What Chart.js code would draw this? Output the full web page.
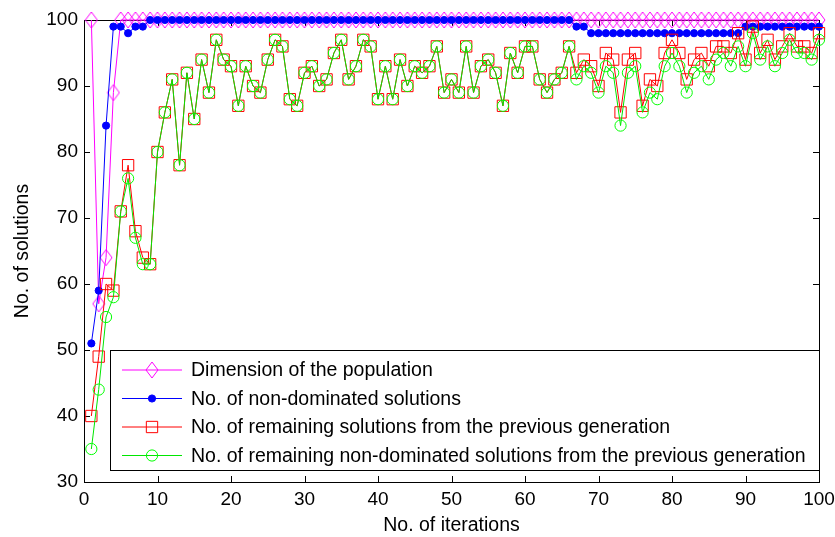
<!DOCTYPE html>
<html>
<head>
<meta charset="utf-8">
<script src="https://cdn.jsdelivr.net/npm/chart.js@4.4.0/dist/chart.umd.min.js"></script>
<style>
  html, body { margin: 0; padding: 0; background: #fff; }
  #wrap { width: 835px; height: 537px; }
</style>
</head>
<body>
<div id="wrap"><canvas id="chart" width="835" height="537"></canvas></div>
<script>
// values, iteration 1..100
const populationSize = [
  100, 57, 64, 89, 100, 100, 100, 100, 100, 100,
  100, 100, 100, 100, 100, 100, 100, 100, 100, 100,
  100, 100, 100, 100, 100, 100, 100, 100, 100, 100,
  100, 100, 100, 100, 100, 100, 100, 100, 100, 100,
  100, 100, 100, 100, 100, 100, 100, 100, 100, 100,
  100, 100, 100, 100, 100, 100, 100, 100, 100, 100,
  100, 100, 100, 100, 100, 100, 100, 100, 100, 100,
  100, 100, 100, 100, 100, 100, 100, 100, 100, 100,
  100, 100, 100, 100, 100, 100, 100, 100, 100, 100,
  100, 100, 100, 100, 100, 100, 100, 100, 100, 100
];
const nonDominated = [
  51, 59, 84, 99, 99, 98, 99, 99, 100, 100,
  100, 100, 100, 100, 100, 100, 100, 100, 100, 100,
  100, 100, 100, 100, 100, 100, 100, 100, 100, 100,
  100, 100, 100, 100, 100, 100, 100, 100, 100, 100,
  100, 100, 100, 100, 100, 100, 100, 100, 100, 100,
  100, 100, 100, 100, 100, 100, 100, 100, 100, 100,
  100, 100, 100, 100, 100, 100, 99, 99, 98, 98,
  98, 98, 98, 98, 98, 98, 98, 98, 98, 98,
  98, 98, 98, 98, 98, 98, 98, 98, 98, 99,
  99, 99, 99, 99, 99, 99, 99, 99, 99, 99
];
const remaining = [
  40, 49, 60, 59, 71, 78, 68, 64, 63, 80,
  86, 91, 78, 92, 85, 94, 89, 97, 94, 93,
  87, 93, 90, 89, 94, 97, 96, 88, 87, 92,
  93, 90, 91, 95, 97, 91, 93, 97, 96, 88,
  93, 88, 94, 90, 93, 92, 93, 96, 89, 91,
  89, 96, 89, 93, 94, 92, 87, 95, 92, 96,
  96, 91, 89, 91, 92, 96, 92, 94, 93, 90,
  95, 94, 86, 94, 95, 87, 91, 90, 95, 97,
  95, 91, 94, 95, 93, 96, 96, 95, 98, 94,
  99, 95, 97, 94, 96, 98, 96, 96, 95, 98
];
const remainingNonDominated = [
  35, 44, 55, 58, 71, 76, 67, 63, 63, 80,
  86, 91, 78, 92, 85, 94, 89, 97, 94, 93,
  87, 93, 90, 89, 94, 97, 96, 88, 87, 92,
  93, 90, 91, 95, 97, 91, 93, 97, 96, 88,
  93, 88, 94, 90, 93, 92, 93, 96, 89, 91,
  89, 96, 89, 93, 94, 92, 87, 95, 92, 96,
  96, 91, 89, 91, 92, 96, 91, 93, 92, 89,
  93, 92, 84, 92, 93, 86, 89, 88, 93, 95,
  93, 89, 92, 93, 91, 94, 95, 93, 96, 93,
  98, 94, 96, 93, 95, 97, 95, 95, 94, 97
];
const seriesLabels = [
  'Dimension of the population',
  'No. of non-dominated solutions',
  'No. of remaining solutions from the previous generation',
  'No. of remaining non-dominated solutions from the previous generation'
];
const xTicks = [0, 10, 20, 30, 40, 50, 60, 70, 80, 90, 100];
const yTicks = [30, 40, 50, 60, 70, 80, 90, 100];

const iterations = populationSize.map((v, i) => i + 1);
const toPoints = arr => arr.map((v, i) => ({ x: iterations[i], y: v }));

const FONT = '"Liberation Sans", Arial, Helvetica, sans-serif';

// matlab-ish hollow diamond (a bit taller than wide)
function diamond(w, h, color) {
  const c = document.createElement('canvas');
  c.width = w + 2;
  c.height = h + 2;
  const g = c.getContext('2d');
  g.strokeStyle = color;
  g.lineWidth = 1;
  g.beginPath();
  g.moveTo(c.width / 2, 1);
  g.lineTo(c.width - 1, c.height / 2);
  g.lineTo(c.width / 2, c.height - 1);
  g.lineTo(1, c.height / 2);
  g.closePath();
  g.stroke();
  return c;
}

function marker(ctx, ds, x, y) {
  const style = ds.pointStyle;
  if (style instanceof HTMLCanvasElement) {
    ctx.drawImage(style, x - style.width / 2, y - style.height / 2);
    return;
  }
  const r = ds.pointRadius;
  ctx.beginPath();
  if (style === 'rect') {
    const s = Math.SQRT1_2 * r;
    ctx.rect(x - s, y - s, 2 * s, 2 * s);
  } else {
    ctx.arc(x, y, r, 0, Math.PI * 2);
  }
  ctx.fillStyle = ds.pointBackgroundColor;
  ctx.fill();
  ctx.strokeStyle = ds.pointBorderColor;
  ctx.lineWidth = 1;
  ctx.stroke();
}

// box round the axes with inward ticks on all four sides
const axesBox = {
  id: 'axesBox',
  beforeDatasetsDraw(chart) {
    const { ctx, chartArea: a, scales } = chart;
    const len = 6;
    ctx.save();
    ctx.strokeStyle = '#000';
    ctx.lineWidth = 1;
    ctx.beginPath();
    scales.x.ticks.forEach(t => {
      const px = Math.round(scales.x.getPixelForValue(t.value)) + 0.5;
      ctx.moveTo(px, a.bottom); ctx.lineTo(px, a.bottom - len);
      ctx.moveTo(px, a.top); ctx.lineTo(px, a.top + len);
    });
    scales.y.ticks.forEach(t => {
      const py = Math.round(scales.y.getPixelForValue(t.value)) + 0.5;
      ctx.moveTo(a.left, py); ctx.lineTo(a.left + len, py);
      ctx.moveTo(a.right, py); ctx.lineTo(a.right - len, py);
    });
    ctx.stroke();
    ctx.strokeRect(Math.round(a.left) + 0.5, Math.round(a.top) + 0.5,
      Math.round(a.right - a.left), Math.round(a.bottom - a.top));
    ctx.restore();
  }
};

// legend drawn inside the axes, lower part, like the matlab one
const boxLegend = {
  id: 'boxLegend',
  afterDatasetsDraw(chart) {
    const { ctx } = chart;
    const left = 110, top = 350, right = 819, bottom = 470;
    ctx.save();
    ctx.fillStyle = '#fff';
    ctx.fillRect(left, top, right - left, bottom - top);
    ctx.strokeStyle = '#000';
    ctx.lineWidth = 1;
    ctx.strokeRect(left + 0.5, top + 0.5, right - left, bottom - top);
    ctx.font = '19.5px ' + FONT;
    ctx.textBaseline = 'middle';
    seriesLabels.forEach((label, i) => {
      const ds = chart.data.datasets[i];
      const y = top + 20 + i * 28.5;
      ctx.strokeStyle = ds.borderColor;
      ctx.beginPath();
      ctx.moveTo(left + 12, y);
      ctx.lineTo(left + 72, y);
      ctx.stroke();
      marker(ctx, ds, left + 42, y);
      ctx.fillStyle = '#000';
      ctx.fillText(label, left + 81, y + 1);
    });
    ctx.restore();
  }
};

const ctx = document.getElementById('chart').getContext('2d');
const chart = new Chart(ctx, {
  type: 'line',
  data: {
    datasets: [
      {
        label: seriesLabels[0],
        data: toPoints(populationSize),
        borderColor: '#ff00ff',
        borderWidth: 1,
        pointStyle: diamond(12, 16, '#ff00ff'),
        pointRadius: 7,
        pointBackgroundColor: 'rgba(0,0,0,0)',
        pointBorderColor: '#ff00ff',
        order: 4
      },
      {
        label: seriesLabels[1],
        data: toPoints(nonDominated),
        borderColor: '#0000ff',
        borderWidth: 1,
        pointStyle: 'circle',
        pointRadius: 3.6,
        pointBackgroundColor: '#0000ff',
        pointBorderColor: '#0000ff',
        order: 3
      },
      {
        label: seriesLabels[2],
        data: toPoints(remaining),
        borderColor: '#ff0000',
        borderWidth: 1,
        pointStyle: 'rect',
        pointRadius: 8,
        pointBackgroundColor: 'rgba(0,0,0,0)',
        pointBorderColor: '#ff0000',
        order: 2
      },
      {
        label: seriesLabels[3],
        data: toPoints(remainingNonDominated),
        borderColor: '#00e600',
        borderWidth: 1,
        pointStyle: 'circle',
        pointRadius: 5.6,
        pointBackgroundColor: 'rgba(0,0,0,0)',
        pointBorderColor: '#00ff00',
        order: 1
      }
    ]
  },
  options: {
    responsive: false,
    animation: false,
    devicePixelRatio: 1,
    layout: { padding: { top: 20, right: 16, left: 0, bottom: 0 } },
    elements: {
      line: { tension: 0 },
      point: { borderWidth: 1, hoverRadius: 0 }
    },
    datasets: { line: { clip: false } },
    plugins: {
      legend: { display: false },
      tooltip: { enabled: false }
    },
    scales: {
      x: {
        type: 'linear',
        min: xTicks[0],
        max: xTicks[xTicks.length - 1],
        afterBuildTicks: s => { s.ticks = xTicks.map(v => ({ value: v })); },
        afterFit: s => { s.height = 55; s.paddingLeft = 0; s.paddingRight = 0; },
        grid: { display: false, drawTicks: false },
        border: { display: false },
        ticks: {
          color: '#000',
          padding: 6,
          maxRotation: 0,
          font: { family: FONT, size: 19 }
        },
        title: {
          display: true,
          text: 'No. of iterations',
          color: '#000',
          padding: { top: 0, bottom: 0 },
          font: { family: FONT, size: 19.5 }
        }
      },
      y: {
        min: yTicks[0],
        max: yTicks[yTicks.length - 1],
        afterBuildTicks: s => { s.ticks = yTicks.map(v => ({ value: v })); },
        afterFit: s => { s.width = 84; s.paddingTop = 0; s.paddingBottom = 0; },
        grid: { display: false, drawTicks: false },
        border: { display: false },
        ticks: {
          color: '#000',
          padding: 6,
          font: { family: FONT, size: 19 }
        },
        title: {
          display: true,
          text: 'No. of solutions',
          color: '#000',
          padding: { top: 11, bottom: 0 },
          font: { family: FONT, size: 19.5 }
        }
      }
    }
  },
  plugins: [axesBox, boxLegend]
});
</script>
</body>
</html>
